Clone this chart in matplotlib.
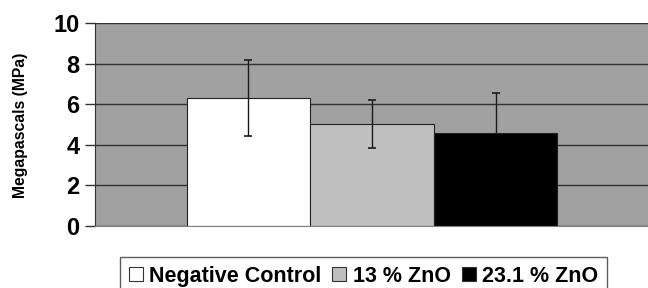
import matplotlib
matplotlib.use("Agg")
import matplotlib.pyplot as plt
import numpy as np

# data
groups = ["Negative Control", "13 % ZnO", "23.1 % ZnO"]
means = [6.3, 5.03, 4.57]
errors = [1.87, 1.18, 2.0]
colors = ["#ffffff", "#c0c0c0", "#000000"]
yticks = [0, 2, 4, 6, 8, 10]

plt.rcParams['font.family'] = ['Liberation Sans', 'DejaVu Sans']
plt.rcParams['font.weight'] = 'bold'

fig = plt.figure(figsize=(6.48, 2.88), dpi=100)
ax = fig.add_axes([95 / 648, 1 - 226 / 288, 1 - 95 / 648, (226 - 23) / 288])
ax.set_facecolor("#a0a0a0")

x = np.arange(len(groups))
for i in range(len(groups)):
    ax.bar(x[i], means[i], width=1.0, color=colors[i], edgecolor="#222222",
           linewidth=0.8, label=groups[i], zorder=2)
    # the black bar hides the lower half of its own error bar
    ez = 1.5 if colors[i] == "#000000" else 3
    ax.errorbar(x[i], means[i], yerr=errors[i], color="#1a1a1a", capsize=3,
                elinewidth=1.0, capthick=1.2, zorder=ez)

ax.set_xlim(-1.242, 3.234)
ax.set_ylim(0, 10)
ax.set_yticks(yticks)
ax.set_yticklabels([str(t) for t in yticks], fontsize=17, fontweight='bold')
ax.set_xticks([])
ax.yaxis.grid(True, color="#333333", linewidth=1.0, zorder=1)
ax.set_axisbelow(True)
ax.tick_params(axis='y', length=7, width=1.0, color="#333333", pad=4)

for side in ["top", "right"]:
    ax.spines[side].set_visible(False)
ax.spines["left"].set_color("#333333")
ax.spines["bottom"].set_color("#808080")

fig.text(0.031, 1 - 125 / 288, "Megapascals (MPa)", rotation=90, ha='center',
         va='center', fontsize=11.3, fontweight='bold')

leg = fig.legend(loc='upper center', bbox_to_anchor=(0.561, 0.108), ncol=3,
                 fontsize=15.5, frameon=True, fancybox=False, edgecolor="#333333",
                 handlelength=0.65, handleheight=0.65, handletextpad=0.3,
                 columnspacing=0.5, borderpad=0.4, borderaxespad=0)
leg.get_frame().set_linewidth(1.0)
for h in leg.legend_handles:
    h.set_edgecolor("#333333")

fig.savefig("out.png", dpi=100)
